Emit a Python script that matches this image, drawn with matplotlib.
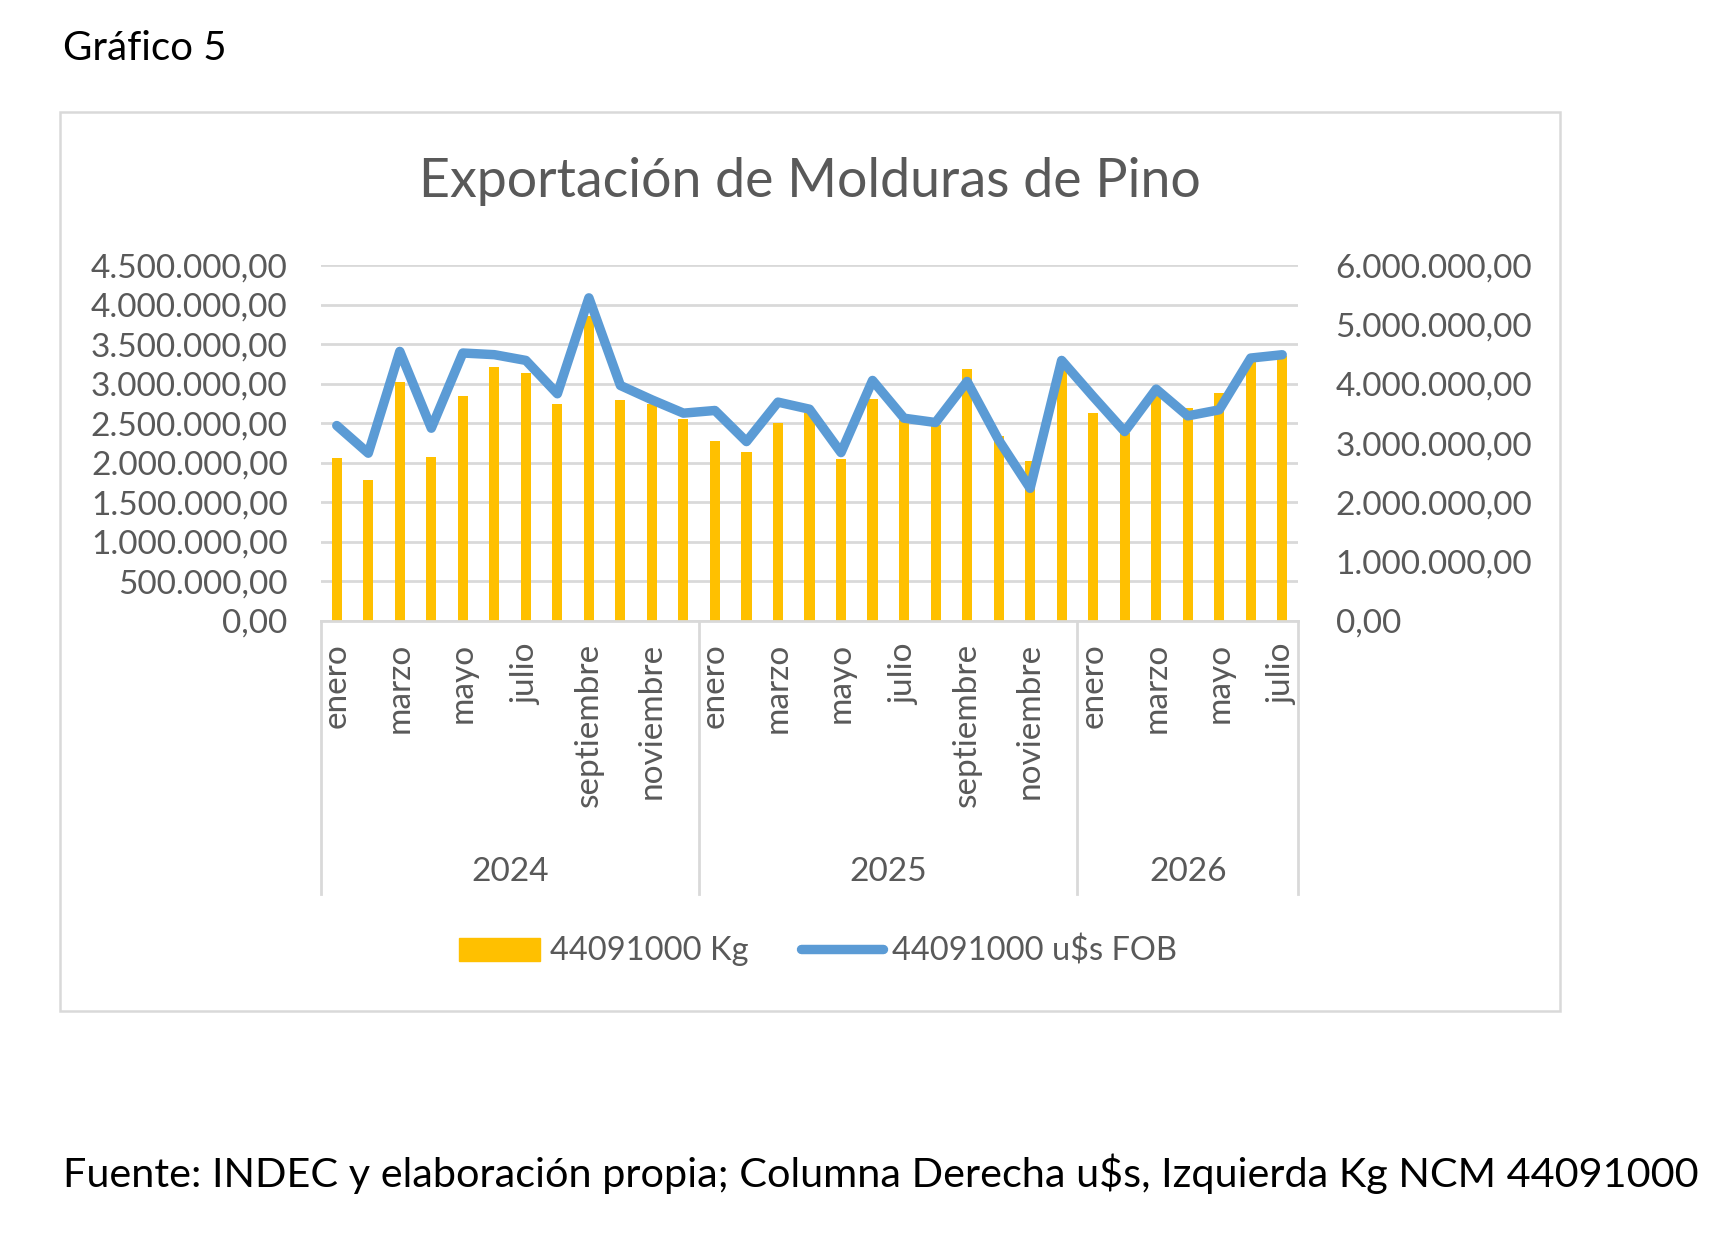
import matplotlib
matplotlib.use("Agg")
import matplotlib.pyplot as plt
from matplotlib.patches import Rectangle, Patch
from matplotlib.lines import Line2D
import matplotlib.transforms as mtransforms

plt.rcParams['font.family'] = ['Lato', 'DejaVu Sans']

# --- data ---
years = ["2024", "2025", "2026"]
months_per_year = [12, 12, 7]
month_names = ["enero", "febrero", "marzo", "abril", "mayo", "junio", "julio",
               "agosto", "septiembre", "octubre", "noviembre", "diciembre"]

kg = [2060000, 1785000, 3020000, 2077000, 2850000, 3218000, 3138000, 2753000,
      3866000, 2800000, 2745000, 2559000,
      2280000, 2136000, 2508000, 2630000, 2051000, 2812000, 2546000, 2483000,
      3193000, 2343000, 2026000, 3223000,
      2639000, 2377000, 2842000, 2694000, 2884000, 3286000, 3350000]

usd_fob = [3299000, 2832000, 4550000, 3254000, 4523000, 4495000, 4398000, 3835000,
           5454000, 3975000, 3733000, 3508000,
           3553000, 3028000, 3694000, 3575000, 2842000, 4060000, 3423000, 3350000,
           4043000, 3056000, 2239000, 4398000,
           3789000, 3197000, 3914000, 3462000, 3564000, 4438000, 4494000]

left_ticks = [0, 500000, 1000000, 1500000, 2000000, 2500000, 3000000, 3500000, 4000000, 4500000]
right_ticks = [0, 1000000, 2000000, 3000000, 4000000, 5000000, 6000000]

GREY_TXT = "#595959"
GRID = "#d9d9d9"
BAR = "#FFC000"
LINE = "#5B9BD5"
FS = 24


def es_fmt(v):
    s = f"{v:,.2f}"
    return s.replace(",", "X").replace(".", ",").replace("X", ".")


W, H = 1720, 1249
fig = plt.figure(figsize=(W / 100, H / 100), dpi=100)

# outer chart frame
fig.patches.append(Rectangle((60 / W, 1 - 1011 / H), 1500 / W, 899 / H,
                             transform=fig.transFigure, fill=False,
                             edgecolor=GRID, linewidth=1.8))

ax = fig.add_axes([321 / W, 1 - 621 / H, 977 / W, 355.5 / H])
x = list(range(len(kg)))
ax.bar(x, kg, width=0.32, color=BAR, zorder=2)
ax.set_xlim(-0.5, len(kg) - 0.5)
ax.set_ylim(0, 4500000)
ax.set_yticks(left_ticks)
ax.set_yticklabels([es_fmt(v) for v in left_ticks])
ax.yaxis.grid(True, color=GRID, linewidth=2)
ax.set_axisbelow(True)
for side in ["top", "left", "right"]:
    ax.spines[side].set_visible(False)
ax.spines["bottom"].set_color(GRID)
ax.spines["bottom"].set_linewidth(2)
ax.tick_params(axis="y", length=0, pad=24, labelsize=FS, labelcolor=GREY_TXT)

# month labels, every other month
labels = []
for n in months_per_year:
    for m in range(n):
        labels.append(month_names[m] if m % 2 == 0 else "")
ax.set_xticks(x)
ax.set_xticklabels(labels, rotation=90, va="top", ha="center")
ax.tick_params(axis="x", length=0, pad=16, labelsize=FS, labelcolor=GREY_TXT)

ax2 = ax.twinx()
ax2.plot(x, usd_fob, color=LINE, linewidth=6.8, solid_joinstyle="round",
         solid_capstyle="round", zorder=3)
ax2.set_ylim(0, 6000000)
ax2.set_yticks(right_ticks)
ax2.set_yticklabels([es_fmt(v) for v in right_ticks])
for side in ["top", "left", "right", "bottom"]:
    ax2.spines[side].set_visible(False)
ax2.tick_params(axis="y", length=0, pad=27, labelsize=FS, labelcolor=GREY_TXT)

# year groups and separators
trans = mtransforms.blended_transform_factory(ax.transData, ax.transAxes)
start = 0
bounds = [-0.5]
for yr, n in zip(years, months_per_year):
    ax.text(start + (n - 1) / 2, -0.706, yr, transform=trans, ha="center",
            va="center", fontsize=FS, color=GREY_TXT)
    start += n
    bounds.append(start - 0.5)
for b in bounds:
    ax.plot([b, b], [0, -0.768], transform=trans, color=GRID, linewidth=2,
            clip_on=False)

# titles and notes
fig.text(63 / W, 1 - 48 / H, "Gráfico 5", fontsize=29, color="black",
         ha="left", va="center")
fig.text(810 / W, 1 - 181 / H, "Exportación de Molduras de Pino", fontsize=38.7,
         color=GREY_TXT, ha="center", va="center")
fig.text(63 / W, 1 - 1174 / H,
         "Fuente: INDEC y elaboración propia; Columna Derecha u$s, Izquierda Kg NCM 44091000",
         fontsize=29.8, color="black", ha="left", va="center")

handles = [Patch(facecolor=BAR, edgecolor=BAR),
           Line2D([0], [0], color=LINE, linewidth=6.8, solid_capstyle="round")]
fig.legend(handles, ["44091000 Kg", "44091000 u$s FOB"], loc="center",
           bbox_to_anchor=(818 / W, 1 - 951 / H), ncol=2, frameon=False,
           fontsize=23.5, labelcolor=GREY_TXT, handlelength=2.5,
           handletextpad=0.3, columnspacing=1.6)

fig.savefig("out.png", dpi=100, facecolor="white")
